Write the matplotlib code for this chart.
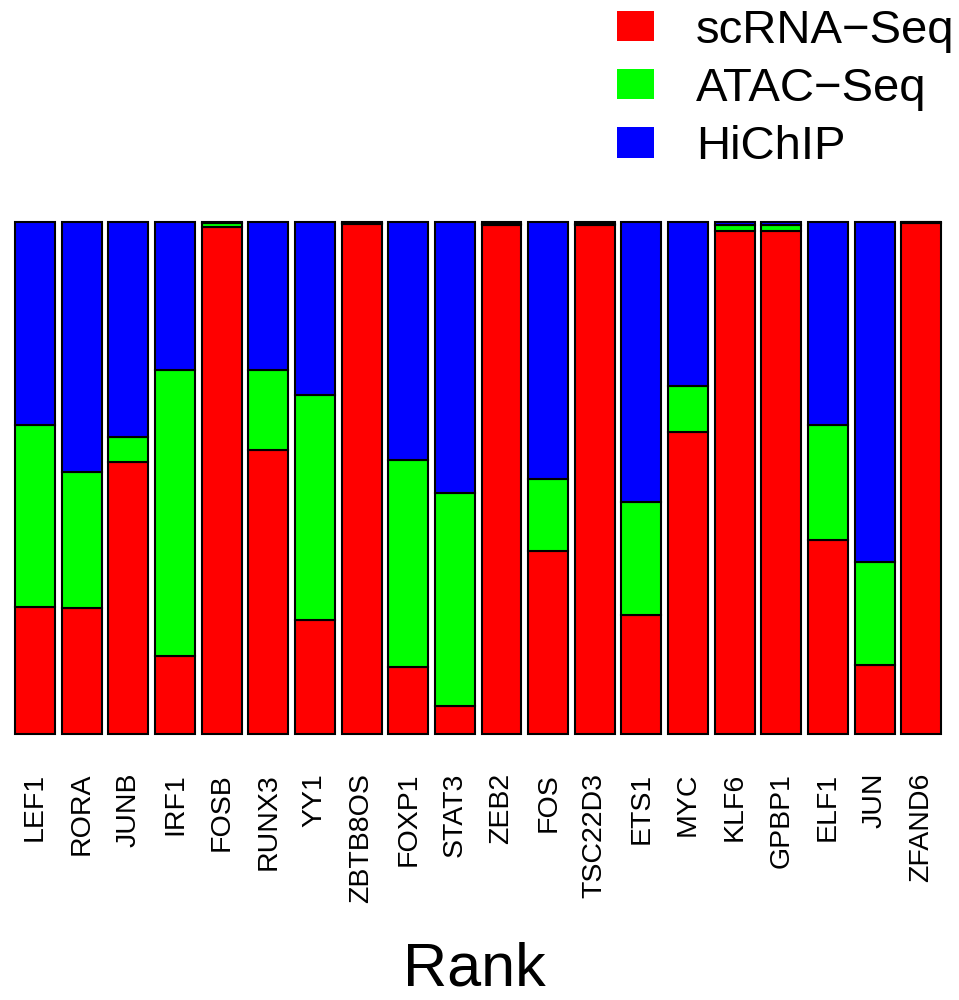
import matplotlib
matplotlib.use("Agg")
import matplotlib.pyplot as plt
from matplotlib.patches import Patch
import numpy as np

plt.rcParams['font.family'] = ['Liberation Sans', 'DejaVu Sans']

# Data (fractions per gene)
genes = ["LEF1", "RORA", "JUNB", "IRF1", "FOSB", "RUNX3", "YY1", "ZBTB8OS",
         "FOXP1", "STAT3", "ZEB2", "FOS", "TSC22D3", "ETS1", "MYC", "KLF6",
         "GPBP1", "ELF1", "JUN", "ZFAND6"]
scrna = [0.249, 0.247, 0.531, 0.152, 0.990, 0.554, 0.222, 0.996,
         0.130, 0.055, 0.994, 0.357, 0.994, 0.233, 0.589, 0.983,
         0.983, 0.378, 0.135, 0.999]
atac = [0.354, 0.265, 0.049, 0.558, 0.008, 0.157, 0.441, 0.002,
        0.405, 0.415, 0.003, 0.141, 0.003, 0.220, 0.090, 0.011,
        0.011, 0.225, 0.201, 0.001]
hichip = [1 - r - a for r, a in zip(scrna, atac)]

labels = ["scRNA\u2212Seq", "ATAC\u2212Seq", "HiChIP"]
colors = ["#FF0000", "#00FF00", "#0000FF"]

fig = plt.figure(figsize=(9.59, 10), dpi=100)
ax = fig.add_axes([0, 0.266, 1, 0.512])

x = np.arange(len(genes))
red = np.array(scrna)
green = np.array(atac)
blue = np.array(hichip)

ax.bar(x, red, width=0.857, color=colors[0], edgecolor="black", linewidth=1.5, clip_on=False)
ax.bar(x, green, bottom=red, width=0.857, color=colors[1], edgecolor="black", linewidth=1.5, clip_on=False)
ax.bar(x, blue, bottom=red + green, width=0.857, color=colors[2], edgecolor="black", linewidth=1.5, clip_on=False)

ax.set_xlim(-0.750, 19.807)
ax.set_ylim(0, 1)
for s in ax.spines.values():
    s.set_visible(False)
ax.set_yticks([])
ax.set_xticks(x)
ax.set_xticklabels(genes, rotation=90, fontsize=20.5, va="top")
ax.tick_params(axis="x", length=0, pad=28)

fig.text(474 / 959, 0.002, "Rank", fontsize=44, ha="center", va="bottom")

# legend boxes have no border in the original
handles = [Patch(facecolor=c, edgecolor="none") for c in colors]
fig.legend(handles, labels, loc="upper left", bbox_to_anchor=(612 / 959, 0.996),
           frameon=False, fontsize=34, handlelength=0.78, handleheight=0.61,
           handletextpad=0.9, labelspacing=0.3, borderpad=0.1, borderaxespad=0)

fig.savefig("out.png", dpi=100)
